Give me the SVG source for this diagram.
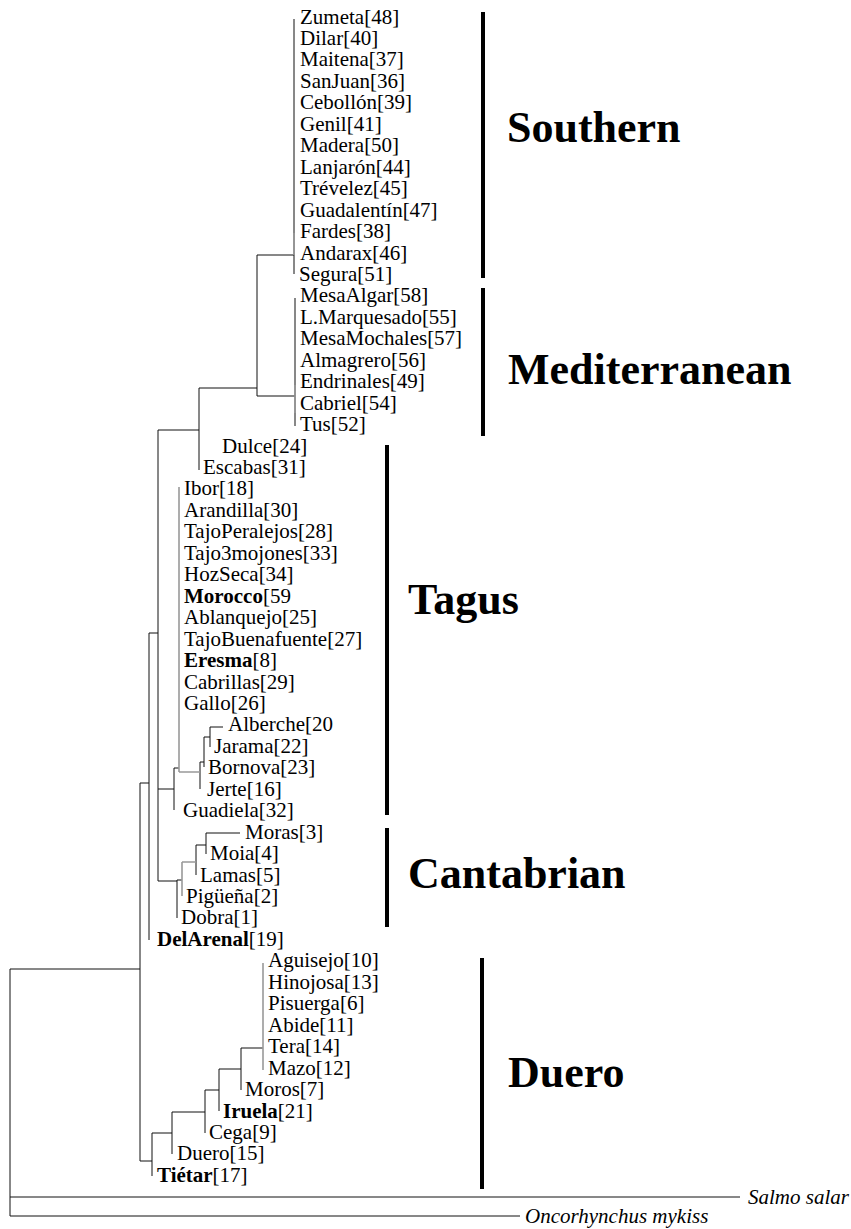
<svg xmlns="http://www.w3.org/2000/svg" width="851" height="1229" viewBox="0 0 851 1229">
<style>
text{font-family:"Liberation Serif","Times New Roman",serif;font-size:21px;fill:#000}
.b{font-weight:bold}
.big{font-size:44px;font-weight:bold}
.it{font-style:italic}
.ln{fill:none;stroke:#111;stroke-width:1}
.gr{fill:none;stroke:#999;stroke-width:1.6}
.bar{fill:#000}
</style>
<rect width="851" height="1229" fill="#fff"/>
<g id="connectors">
<path class="ln" d="M10,969V1216M10,969H140M10,1197H740M10,1216H520M140,783V1161M140,783H149M140,1161H152M152,1133V1176M152,1133H172M172,1112V1154M172,1112H205M205,1090V1133M205,1090H219M219,1069V1111M219,1069H241M241,1048V1090M241,1048H263M149,633V940M149,633H158M158,430V881M158,430H199M199,388V470M199,388H257M257,255V396M257,255H294M294,19V274M257,396H295M295,298V426M158,789H174M174,768V810M174,768H179M200,762V789M200,762H204M204,737V767M204,737H210M210,727V747M210,727H223M158,881H177M177,880V918M177,880H182M196,845V875M196,845H206M206,833V854M206,833H240"/>
<path class="gr" d="M263,963V1070M179,487V772M179,772H200M182,862V896M182,862H196M294,233V255M295,385V413"/>
</g>
<g id="bars">
<rect class="bar" x="481" y="12" width="4" height="266"/>
<rect class="bar" x="481" y="288" width="4" height="148"/>
<rect class="bar" x="385" y="445" width="4" height="370"/>
<rect class="bar" x="385" y="828" width="4" height="99"/>
<rect class="bar" x="480" y="958" width="4" height="231"/>
</g>
<g id="clade-labels">
<g id="southern"><text class="big" x="507" y="142">Southern</text></g>
<g id="mediterranean"><text class="big" x="508" y="384">Mediterranean</text></g>
<g id="tagus"><text class="big" x="408" y="614">Tagus</text></g>
<g id="cantabrian"><text class="big" x="408" y="888">Cantabrian</text></g>
<g id="duero"><text class="big" x="508" y="1087">Duero</text></g>
</g>
<g id="leaves">
<g id="n48"><text x="300" y="23.5">Zumeta[48]</text></g>
<g id="n40"><text x="300" y="45">Dilar[40]</text></g>
<g id="n37"><text x="300" y="66.4">Maitena[37]</text></g>
<g id="n36"><text x="300" y="87.9">SanJuan[36]</text></g>
<g id="n39"><text x="300" y="109.3">Cebollón[39]</text></g>
<g id="n41"><text x="300" y="130.8">Genil[41]</text></g>
<g id="n50"><text x="300" y="152.2">Madera[50]</text></g>
<g id="n44"><text x="300" y="173.7">Lanjarón[44]</text></g>
<g id="n45"><text x="300" y="195.1">Trévelez[45]</text></g>
<g id="n47"><text x="300" y="216.6">Guadalentín[47]</text></g>
<g id="n38"><text x="300" y="238">Fardes[38]</text></g>
<g id="n46"><text x="300" y="259.5">Andarax[46]</text></g>
<g id="n51"><text x="299" y="280.9">Segura[51]</text></g>
<g id="n58"><text x="300" y="302.4">MesaAlgar[58]</text></g>
<g id="n55"><text x="300" y="323.8">L.Marquesado[55]</text></g>
<g id="n57"><text x="300" y="345.3">MesaMochales[57]</text></g>
<g id="n56"><text x="300" y="366.7">Almagrero[56]</text></g>
<g id="n49"><text x="300" y="388.2">Endrinales[49]</text></g>
<g id="n54"><text x="300" y="409.6">Cabriel[54]</text></g>
<g id="n52"><text x="300" y="431">Tus[52]</text></g>
<g id="n24"><text x="222" y="452.5">Dulce[24]</text></g>
<g id="n31"><text x="203" y="474">Escabas[31]</text></g>
<g id="n18"><text x="184" y="495.4">Ibor[18]</text></g>
<g id="n30"><text x="184" y="516.9">Arandilla[30]</text></g>
<g id="n28"><text x="184" y="538.3">TajoPeralejos[28]</text></g>
<g id="n33"><text x="184" y="559.8">Tajo3mojones[33]</text></g>
<g id="n34"><text x="184" y="581.2">HozSeca[34]</text></g>
<g id="n59"><text x="184" y="602.7"><tspan class="b">Morocco</tspan>[59</text></g>
<g id="n25"><text x="184" y="624.1">Ablanquejo[25]</text></g>
<g id="n27"><text x="184" y="645.6">TajoBuenafuente[27]</text></g>
<g id="n8"><text x="184" y="667"><tspan class="b">Eresma</tspan>[8]</text></g>
<g id="n29"><text x="184" y="688.5">Cabrillas[29]</text></g>
<g id="n26"><text x="184" y="709.9">Gallo[26]</text></g>
<g id="n20"><text x="228" y="731.4">Alberche[20</text></g>
<g id="n22"><text x="214" y="752.8">Jarama[22]</text></g>
<g id="n23"><text x="208" y="774.3">Bornova[23]</text></g>
<g id="n16"><text x="207" y="795.7">Jerte[16]</text></g>
<g id="n32"><text x="183" y="817.2">Guadiela[32]</text></g>
<g id="n3"><text x="245" y="838.6">Moras[3]</text></g>
<g id="n4"><text x="210" y="860">Moia[4]</text></g>
<g id="n5"><text x="200" y="881.5">Lamas[5]</text></g>
<g id="n2"><text x="186" y="903">Pigüeña[2]</text></g>
<g id="n1"><text x="181" y="924.4">Dobra[1]</text></g>
<g id="n19"><text x="157" y="945.9"><tspan class="b">DelArenal</tspan>[19]</text></g>
<g id="n10"><text x="268" y="967.3">Aguisejo[10]</text></g>
<g id="n13"><text x="268" y="988.8">Hinojosa[13]</text></g>
<g id="n6"><text x="268" y="1010.2">Pisuerga[6]</text></g>
<g id="n11"><text x="268" y="1031.7">Abide[11]</text></g>
<g id="n14"><text x="268" y="1053.1">Tera[14]</text></g>
<g id="n12"><text x="268" y="1074.6">Mazo[12]</text></g>
<g id="n7"><text x="245" y="1096">Moros[7]</text></g>
<g id="n21"><text x="223" y="1117.5"><tspan class="b">Iruela</tspan>[21]</text></g>
<g id="n9"><text x="209" y="1138.9">Cega[9]</text></g>
<g id="n15"><text x="177" y="1160.4">Duero[15]</text></g>
<g id="n17"><text x="157" y="1181.8"><tspan class="b">Tiétar</tspan>[17]</text></g>
<g id="salmo"><text class="it" x="748" y="1204">Salmo salar</text></g>
<g id="oncorhynchus"><text class="it" x="525" y="1223">Oncorhynchus mykiss</text></g>
</g>
</svg>
